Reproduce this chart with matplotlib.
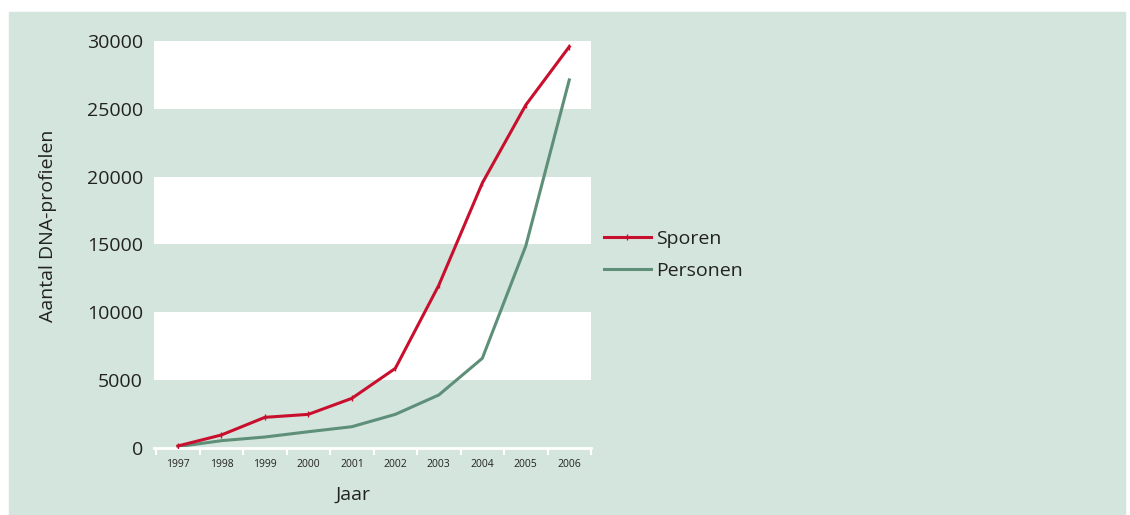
import numpy as np
import matplotlib.pyplot as plt
from matplotlib.patches import Rectangle

plt.rcParams['font.family'] = ['Open Sans', 'DejaVu Sans']

# data
jaren = ['1997', '1998', '1999', '2000', '2001', '2002', '2003', '2004', '2005', '2006']
sporen = [150, 960, 2260, 2480, 3660, 5870, 12000, 19530, 25280, 29580]
personen = [100, 540, 810, 1200, 1570, 2480, 3910, 6610, 14890, 27130]
yticks = [0, 5000, 10000, 15000, 20000, 25000, 30000]

bg = '#d4e5dd'
rood = '#c8102e'
groen = '#5e8f78'

W, H = 1130, 515
fig = plt.figure(figsize=(11.3, 5.15), dpi=100)
fig.patches.append(Rectangle((9/W, 0), (1125-9)/W, (H-12)/H,
                             transform=fig.transFigure, color=bg, zorder=-10))

ax = fig.add_axes([154/W, (H-448)/H, (591-154)/W, (448-41)/H])
ax.set_facecolor(bg)
ax.set_zorder(5)

# white bands
for lo in [5000, 15000, 25000]:
    ax.axhspan(lo, lo + 5000, color='white', lw=0, zorder=0)

x = np.arange(len(jaren))
ax.plot(x, sporen, color=rood, lw=2.2, marker='|', ms=4, mew=1, label='Sporen', zorder=3)
ax.plot(x, personen, color=groen, lw=2.2, label='Personen', zorder=2)

ax.set_xlim(-0.55, 9.5)
ax.set_ylim(0, 30000)
ax.set_yticks(yticks)
ax.set_yticklabels([str(v) for v in yticks], fontsize=14, color='#222222')
ax.tick_params(axis='y', length=0, pad=8)

ax.set_xticks(x)
ax.set_xticklabels(jaren, fontsize=7.5, color='#222222')
ax.set_xticks(np.arange(-0.5, 10, 1), minor=True)
ax.tick_params(axis='x', which='major', length=0, pad=8)
ax.tick_params(axis='x', which='minor', length=5, width=1.5, color='white')

for s in ['top', 'right', 'left']:
    ax.spines[s].set_visible(False)
ax.spines['bottom'].set_color('white')
ax.spines['bottom'].set_linewidth(2)

fig.text(353/W, (H-495)/H, 'Jaar', fontsize=14, color='#222222', ha='center', va='center')
fig.text(48/W, (H-226)/H, 'Aantal DNA-profielen', fontsize=14, color='#222222',
         ha='center', va='center', rotation=90)

leg = fig.legend(loc='center left', bbox_to_anchor=(604/W, (H-255)/H), frameon=False,
                 fontsize=14, handlelength=2.4, handletextpad=0.3, labelspacing=0.72,
                 borderpad=0, borderaxespad=0)
for t in leg.get_texts():
    t.set_color('#222222')

fig.savefig('out.png', dpi=100)
